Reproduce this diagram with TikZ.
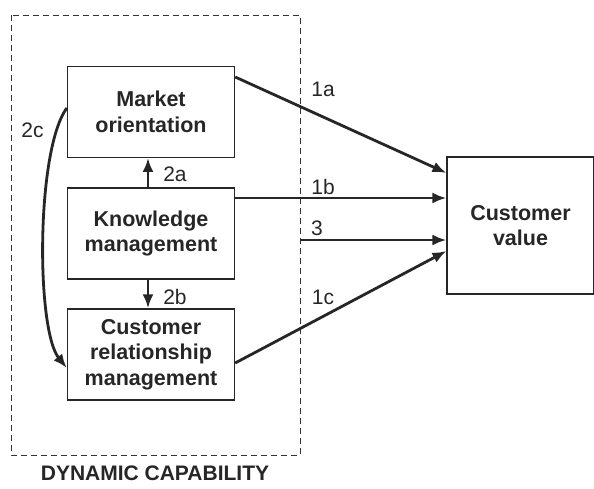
\documentclass[tikz,border=0pt]{standalone}
\usepackage{fontspec}
\setmainfont{Liberation Sans}
\usetikzlibrary{arrows.meta}

\begin{document}
\begin{tikzpicture}[x=1pt, y=-1pt, font=\fontsize{21}{25.5}\selectfont,
  box/.style = {draw=black!85, line width=1.4pt, minimum width=167pt, text width=160pt, align=center, font=\fontsize{21.5}{25.5}\selectfont\bfseries, text=black!85},
  link/.style = {draw=black!85, line width=2.8pt, -{Latex[length=14pt,width=11pt]}},
  num/.style = {text=black!85}]
\useasboundingbox (0,0) rectangle (594,488);

% dynamic capability frame
\draw[black!80, line width=1pt, dash pattern=on 6pt off 4pt] (11,15) rectangle (300,455);
\node[font=\fontsize{21}{24}\selectfont\bfseries, text=black!85, inner sep=0pt, anchor=base] (DC) at (155,480) {DYNAMIC CAPABILITY};

\node[box, minimum height=90.5pt] (MO) at (151,112) {Market\\orientation};
\node[box, minimum height=91pt] (KM) at (151,233.5) {Knowledge\\management};
\node[box, minimum height=91pt] (CRM) at (151,354.5) {Customer\\relationship\\management};
\node[box, minimum width=146pt, text width=140pt, minimum height=137pt] (CV) at (520.5,225.5) {Customer\\value};
\coordinate (F) at (300,240);

\draw[link] ([yshift=35pt]MO.east) -- ([yshift=52.5pt]CV.west);
\draw[link] ([yshift=35.5pt]KM.east) -- ([yshift=27.5pt]CV.west);
\draw[link] (F) -- ([yshift=-14.5pt]CV.west);
\draw[link] ([yshift=-8.5pt]CRM.east) -- ([yshift=-25.5pt]CV.west);
\draw[link] ([xshift=-3pt]KM.north) -- ([xshift=-3pt]MO.south);
\draw[link] ([xshift=-3pt]KM.south) -- ([xshift=-3pt]CRM.south |- CRM.north);
\draw[link] ([yshift=4pt]MO.west) .. controls (36,150) and (36,330) .. ([yshift=-13.5pt]CRM.west);

\node[num] (n1a) at (323,89) {1a};
\node[num] (n1b) at (323,187) {1b};
\node[num] (n3) at (317,228) {3};
\node[num] (n1c) at (323,297) {1c};
\node[num] (n2a) at (175,174.5) {2a};
\node[num] (n2b) at (175,297) {2b};
\node[num] (n2c) at (32.5,130) {2c};
\end{tikzpicture}
\end{document}
